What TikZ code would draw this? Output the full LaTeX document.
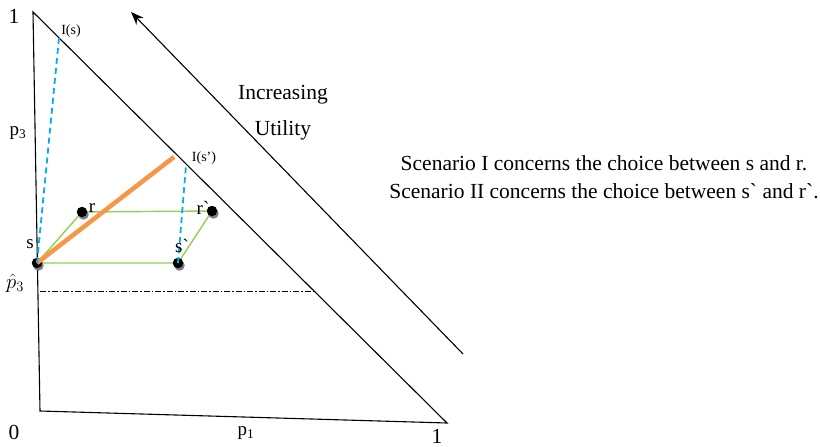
\documentclass[tikz,border=0pt]{standalone}
\usepackage{fontspec}
\setmainfont{Liberation Serif}
\usetikzlibrary{positioning,arrows.meta,shadows}

\definecolor{linkgreen}{RGB}{146,208,80}
\definecolor{pathorange}{RGB}{247,150,70}
\definecolor{indblue}{RGB}{0,176,240}

\begin{document}
\begin{tikzpicture}[
  x=1pt,y=-1pt,
  >={Stealth[length=13pt,width=10pt]},
  edge/.style={line width=1.1pt,black},
  link/.style={line width=1.4pt,linkgreen},
  indiff/.style={line width=1.8pt,indblue,dash pattern=on 6pt off 4pt},
  dot/.style={circle,fill=black,inner sep=0pt,minimum size=10.5pt,
              drop shadow={shadow xshift=1.5pt,shadow yshift=-2.5pt,fill=gray,opacity=1}},
  lab/.style={font=\fontsize{21.5}{24}\selectfont,inner sep=1pt},
  ptlab/.style={font=\fontsize{19}{21}\selectfont,inner sep=1pt},
  small/.style={font=\fontsize{14}{16}\selectfont,inner sep=1pt}
]
  \useasboundingbox (0,0) rectangle (820,447);

  % simplex
  \coordinate (top) at (33,12);
  \coordinate (bl)  at (40,411);
  \coordinate (br)  at (447,423);
  \draw[edge] (top) -- (bl) -- (br) -- cycle;

  % direction of preference
  \coordinate (arrS) at (463,354);
  \coordinate (arrE) at (131,12);
  \draw[edge,->] (arrS) -- (arrE);

  % lotteries
  \coordinate (s)  at (37,263);
  \coordinate (r)  at (82,212);
  \coordinate (rp) at (212,211);
  \coordinate (sp) at (178,263);
  \coordinate (Is)  at (59,38);
  \coordinate (Isp) at (186,165);
  \coordinate (oend) at (174,157);

  \draw[link] (s) -- (r) -- (rp) -- (sp) -- cycle;

  \node[dot] (sdot)  at (s)  {};
  \node[dot] (rdot)  at (r)  {};
  \node[dot] (rpdot) at (rp) {};
  \node[dot] (spdot) at (sp) {};

  \draw[line width=4.5pt,pathorange] (s) -- (oend);
  \draw[indiff] (s) -- (Is);
  \draw[indiff] (sp) -- (Isp);

  % p3 hat level
  \coordinate (hatL) at (40,291);
  \coordinate (hatR) at (315,291);
  \draw[line width=0.9pt,dash pattern=on 6pt off 2pt on 1.5pt off 2pt] (hatL) -- (hatR);

  % labels
  \node[lab] (one3) at (14,16) {1};
  \node[lab] (zero) at (14,432) {0};
  \node[lab] (one1) at (437,436) {1};
  \node[ptlab] (p3) at (18,133) {p\textsubscript{3}};
  \node[ptlab] (p1) at (246,433) {p\textsubscript{1}};
  \node[font=\fontsize{22}{24}\selectfont,inner sep=0pt] (p3hat) at (15,283) {$\hat{p}_3$};
  \node[small] (IsLab)  at (71,31)  {I(s)};
  \node[small] (IspLab) at (204,158) {I(s’)};
  \node[ptlab] (sLab)  at (30,244) {s};
  \node[ptlab] (rLab)  at (92,208) {r};
  \node[ptlab] (rpLab) at (203,208) {r\textasciigrave};
  \node[ptlab] (spLab) at (182,246) {s\textasciigrave};

  \node[lab] (incr) at (283,95) {Increasing};
  \node[lab,below=14pt of incr.south,anchor=north] (util) {Utility};

  \node[lab,align=center,font=\fontsize{21.5}{28}\selectfont] (note) at (604,177)
       {Scenario I concerns the choice between s and r.\\
        Scenario II concerns the choice between s\textasciigrave{} and r\textasciigrave.};
\end{tikzpicture}
\end{document}
